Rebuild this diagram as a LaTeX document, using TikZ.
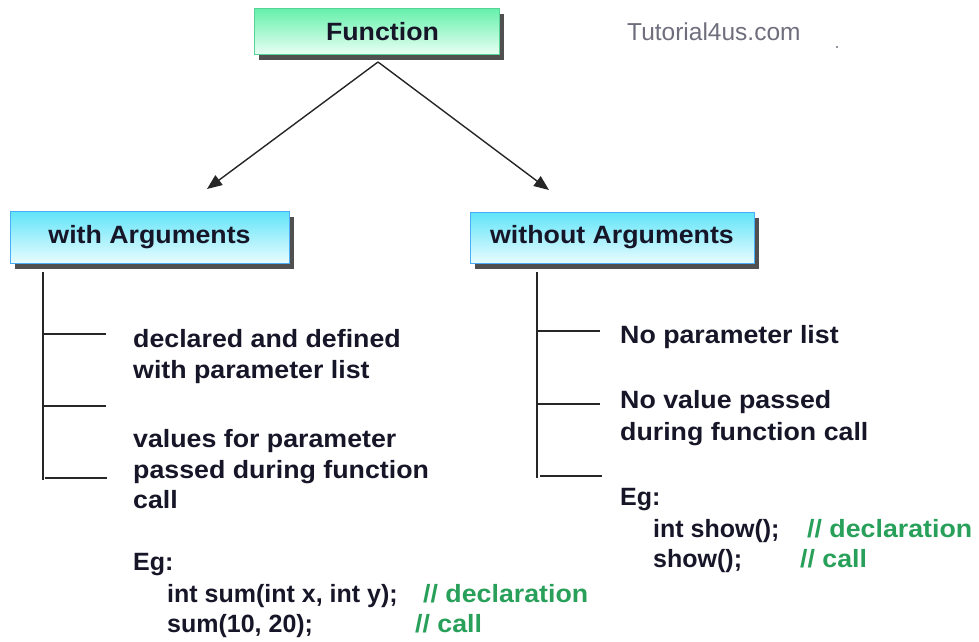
\documentclass[tikz,border=0pt]{standalone}
\usepackage{fontspec}
\setmainfont{Liberation Sans}
\newfontfamily\widefont[FakeStretch=1.07]{Liberation Sans}
\usetikzlibrary{arrows.meta,shadows}
\definecolor{txt}{RGB}{22,22,40}
\definecolor{cmt}{RGB}{40,160,90}
\definecolor{shadowc}{RGB}{80,80,80}
\definecolor{greentop}{RGB}{100,240,170}
\definecolor{greenbot}{RGB}{232,255,244}
\definecolor{cyantop}{RGB}{96,228,248}
\definecolor{cyanbot}{RGB}{232,252,255}
\definecolor{wm}{RGB}{110,110,125}
\tikzset{
  boxbase/.style={draw, line width=0.6pt, inner sep=0pt, text=txt,
    font=\widefont\bfseries\fontsize{25}{30}\selectfont,
    drop shadow={shadow xshift=5pt, shadow yshift=-6pt, fill=shadowc, opacity=1}},
  fnbox/.style={boxbase, draw=greentop!80!black!60!greentop, top color=greentop, bottom color=greenbot},
  argbox/.style={boxbase, draw=cyantop!70!blue!80!cyantop, top color=cyantop, bottom color=cyanbot},
  tline/.style={line width=1.6pt, draw=black!85},
  arr/.style={line width=1.4pt, draw=black!85, -{Triangle[length=15pt,width=12pt]}},
  code/.style={anchor=base west, inner sep=0pt, text=txt, font=\bfseries\fontsize{25}{30}\selectfont},
  desc/.style={code, font=\widefont\bfseries\fontsize{25}{30}\selectfont},
  cmtx/.style={desc, text=cmt},
}
\begin{document}
\begin{tikzpicture}[x=1pt,y=-1pt]
\useasboundingbox (0,0) rectangle (979,641);
% boxes
\node[fnbox, minimum width=245pt, minimum height=46pt, text depth=0pt] (fn) at (376.5,31) {\hspace*{12pt}Function};
\node[argbox, minimum width=279pt, minimum height=52pt] (wa) at (149.5,237) {with Arguments};
\node[argbox, minimum width=284pt, minimum height=51pt] (woa) at (612,237.5) {without Arguments};
% watermark
\node[anchor=base west, inner sep=0pt, text=wm, font=\fontsize{24.5}{30}\selectfont] (wmk) at (627,40) {Tutorial4us.com};
\fill[wm] (837,47) circle (1.1);
% arrows
\coordinate (fnb) at (378,62);
\coordinate (la) at (207,189);
\coordinate (ra) at (549,190);
\draw[arr] (fnb) -- (la);
\draw[arr] (fnb) -- (ra);
% left tree
\coordinate (lt) at (43,272);
\coordinate (lb) at (43,480);
\coordinate (l1) at (43,334); \coordinate (l1e) at (106,334);
\coordinate (l2) at (43,406); \coordinate (l2e) at (106,406);
\coordinate (l3) at (45,478); \coordinate (l3e) at (107,478);
\draw[tline] (lt) -- (lb);
\draw[tline] (l1) -- (l1e);
\draw[tline] (l2) -- (l2e);
\draw[tline] (l3) -- (l3e);
% right tree
\coordinate (rt) at (537,272);
\coordinate (rb) at (537,478);
\coordinate (r1) at (537,331); \coordinate (r1e) at (600,331);
\coordinate (r2) at (537,404); \coordinate (r2e) at (600,404);
\coordinate (r3) at (540,476); \coordinate (r3e) at (602,476);
\draw[tline] (rt) -- (rb);
\draw[tline] (r1) -- (r1e);
\draw[tline] (r2) -- (r2e);
\draw[tline] (r3) -- (r3e);
% left texts
\node[desc] (ld1) at (133,347) {declared and defined};
\node[desc] (ld2) at (133,378) {with parameter list};
\node[desc] (ld3) at (133,447) {values for parameter};
\node[desc] (ld4) at (133,478) {passed during function};
\node[desc] (ld5) at (133,508) {call};
\node[code] (leg) at (133,570) {Eg:};
\node[code] (lc1) at (167,602) {int sum(int x, int y);};
\node[code] (lc2) at (167,632) {sum(10, 20);};
\node[cmtx] (lk1) at (423,602) {// declaration};
\node[cmtx] (lk2) at (415,632) {// call};
% right texts
\node[desc] (rd1) at (620,343) {No parameter list};
\node[desc] (rd2) at (620,408) {No value passed};
\node[desc] (rd3) at (620,440) {during function call};
\node[code] (reg) at (620,505) {Eg:};
\node[code] (rc1) at (653,537) {int show();};
\node[code] (rc2) at (653,567) {show();};
\node[cmtx] (rk1) at (807,537) {// declaration};
\node[cmtx] (rk2) at (800,567) {// call};
\end{tikzpicture}
\end{document}
